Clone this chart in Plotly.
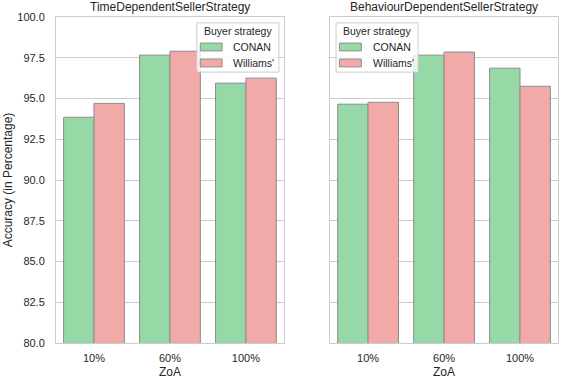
import plotly.graph_objects as go
from plotly.subplots import make_subplots

zoa = ["10%", "60%", "100%"]
strategies = ["TimeDependentSellerStrategy", "BehaviourDependentSellerStrategy"]
buyers = ["CONAN", "Williams'"]

time_conan = [93.85, 97.66, 95.94]
time_williams = [94.7, 97.9, 96.25]
behaviour_conan = [94.65, 97.66, 96.86]
behaviour_williams = [94.77, 97.85, 95.75]

colors = {"CONAN": "#97d9a6", "Williams'": "#f2aaa8"}
edge = "#8c8c8c"
font = "Liberation Sans, Arial, sans-serif"
ink = "#262626"

fig = make_subplots(rows=1, cols=2, shared_yaxes=True, horizontal_spacing=0.092,
                    subplot_titles=strategies)

series = [
    (1, [time_conan, time_williams]),
    (2, [behaviour_conan, behaviour_williams]),
]
for col, vals in series:
    for name, y in zip(buyers, vals):
        fig.add_trace(
            go.Bar(x=zoa, y=y, name=name, marker_color=colors[name],
                   marker_line=dict(color=edge, width=1), showlegend=False),
            row=1, col=col,
        )

axis_style = dict(showline=True, linecolor="#cccccc", linewidth=1, mirror=True,
                  tickfont=dict(size=11, color=ink, family=font), automargin=False)
fig.update_xaxes(showgrid=False, ticks="", title_text="ZoA", ticklabelstandoff=5,
                 title_font=dict(size=12, color=ink), title_standoff=4, **axis_style)
fig.update_yaxes(range=[80, 100], dtick=2.5, tickformat=".1f", showgrid=True,
                 gridcolor="#cccccc", gridwidth=1, zeroline=False, ticks="",
                 ticklabelstandoff=8, **axis_style)
fig.update_yaxes(title_text="Accuracy (in Percentage)", title_font=dict(size=12, color=ink),
                 title_standoff=2, row=1, col=1)

for ann in fig.layout.annotations:
    ann.font = dict(size=12, color=ink, family=font)
    ann.yshift = 1


# matplotlib-style legend box drawn in each subplot's domain coordinates
def add_legend(xref, yref, x0):
    w = 0.36
    fig.add_shape(type="rect", xref=xref, yref=yref, x0=x0, x1=x0 + w, y0=0.831, y1=0.982,
                  fillcolor="rgba(255,255,255,0.8)", line=dict(color="#cccccc", width=1),
                  layer="above", opacity=1)
    fig.add_annotation(xref=xref, yref=yref, x=x0 + w / 2, y=0.957, text="Buyer strategy",
                       showarrow=False, xanchor="center", yanchor="middle",
                       font=dict(size=10.5, color=ink, family=font))
    for name, ys in zip(buyers, [(0.896, 0.920), (0.847, 0.871)]):
        fig.add_shape(type="rect", xref=xref, yref=yref, x0=x0 + 0.015, x1=x0 + 0.111,
                      y0=ys[0], y1=ys[1], fillcolor=colors[name],
                      line=dict(color=edge, width=1), layer="above", opacity=1)
        fig.add_annotation(xref=xref, yref=yref, x=x0 + 0.152, y=(ys[0] + ys[1]) / 2,
                           text=name, showarrow=False, xanchor="left", yanchor="middle",
                           font=dict(size=10.5, color=ink, family=font))


add_legend("x domain", "y domain", 0.618)
add_legend("x2 domain", "y2 domain", 0.026)

fig.update_layout(
    template="simple_white",
    width=562, height=383,
    margin=dict(l=56, r=4, t=17, b=40, autoexpand=False),
    barmode="group", bargap=0.2, bargroupgap=0,
    plot_bgcolor="white", paper_bgcolor="white",
    font=dict(family=font, size=11, color=ink),
    showlegend=False,
)

# the page has a default 8px body margin; drop it so the figure fills the window
fig.write_html("out.html", config={"displayModeBar": False},
               post_script="document.body.style.margin='0px';")
